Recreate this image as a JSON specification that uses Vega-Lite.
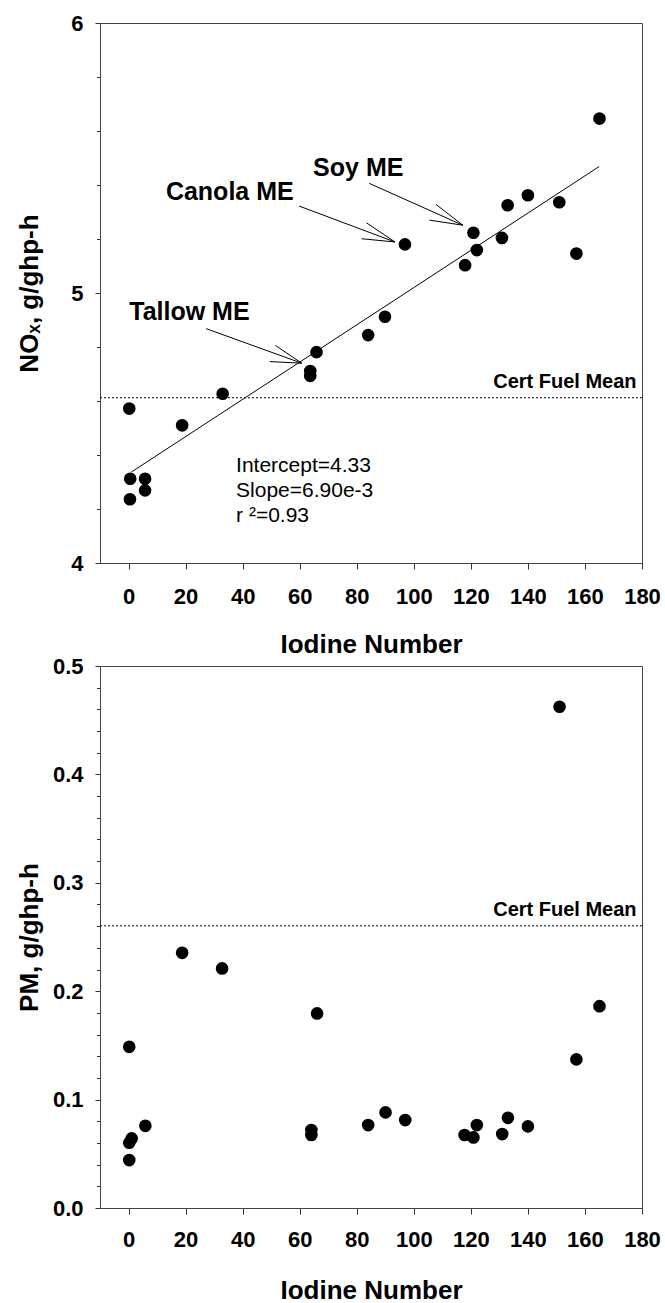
{
  "$schema": "https://vega.github.io/schema/vega-lite/v6.json",
  "padding": {"left": 15, "top": 11, "right": 0, "bottom": 0},
  "spacing": -4,
  "config": {
    "font": "Liberation Sans",
    "view": {"stroke": "#444", "strokeWidth": 1},
    "axis": {
      "grid": false,
      "ticks": true,
      "tickWidth": 1,
      "domainColor": "#444",
      "tickColor": "#333",
      "labelColor": "black",
      "titleColor": "black",
      "labelFontWeight": "bold",
      "titleFontWeight": "bold",
      "labelOverlap": false,
      "labelFlush": false
    }
  },
  "datasets": {
    "nox": [
      {"iodine": 0.25, "value": 4.572},
      {"iodine": 0.6, "value": 4.312},
      {"iodine": 0.5, "value": 4.236},
      {"iodine": 5.8, "value": 4.312},
      {"iodine": 5.8, "value": 4.269},
      {"iodine": 18.8, "value": 4.510},
      {"iodine": 33.0, "value": 4.627},
      {"iodine": 63.7, "value": 4.711},
      {"iodine": 63.7, "value": 4.693},
      {"iodine": 65.9, "value": 4.781},
      {"iodine": 84.0, "value": 4.844},
      {"iodine": 89.9, "value": 4.912},
      {"iodine": 96.9, "value": 5.180},
      {"iodine": 118.0, "value": 5.103},
      {"iodine": 120.9, "value": 5.223},
      {"iodine": 122.1, "value": 5.159},
      {"iodine": 130.9, "value": 5.204},
      {"iodine": 132.9, "value": 5.325},
      {"iodine": 140.0, "value": 5.362},
      {"iodine": 151.0, "value": 5.336},
      {"iodine": 157.0, "value": 5.146},
      {"iodine": 165.1, "value": 5.646}
    ],
    "pm": [
      {"iodine": 0.25, "value": 0.1487},
      {"iodine": 1.1, "value": 0.0642},
      {"iodine": 0.25, "value": 0.0602},
      {"iodine": 0.25, "value": 0.0442},
      {"iodine": 5.9, "value": 0.0758},
      {"iodine": 18.8, "value": 0.2354},
      {"iodine": 32.8, "value": 0.2210},
      {"iodine": 64.1, "value": 0.0719},
      {"iodine": 64.1, "value": 0.0673},
      {"iodine": 66.1, "value": 0.1795},
      {"iodine": 84.0, "value": 0.0765},
      {"iodine": 90.1, "value": 0.0882},
      {"iodine": 97.0, "value": 0.0811},
      {"iodine": 117.8, "value": 0.0673},
      {"iodine": 120.9, "value": 0.0651},
      {"iodine": 122.1, "value": 0.0765},
      {"iodine": 131.0, "value": 0.0682},
      {"iodine": 133.0, "value": 0.0832},
      {"iodine": 140.0, "value": 0.0753},
      {"iodine": 151.1, "value": 0.4624},
      {"iodine": 157.0, "value": 0.1371},
      {"iodine": 165.1, "value": 0.1862}
    ],
    "fit": [
      {"iodine": 1, "value": 4.3369},
      {"iodine": 165, "value": 5.4685}
    ],
    "arrows": [
      {"iodine": 59.8, "value": 5.322, "iodine2": 93.4, "value2": 5.189},
      {"iodine": 83.4, "value": 5.260, "iodine2": 93.4, "value2": 5.189},
      {"iodine": 81.7, "value": 5.201, "iodine2": 93.4, "value2": 5.189},
      {"iodine": 84.4, "value": 5.406, "iodine2": 117.2, "value2": 5.251},
      {"iodine": 107.8, "value": 5.328, "iodine2": 117.2, "value2": 5.251},
      {"iodine": 105.5, "value": 5.270, "iodine2": 117.2, "value2": 5.251},
      {"iodine": 27.2, "value": 4.868, "iodine2": 60.7, "value2": 4.740},
      {"iodine": 51.5, "value": 4.806, "iodine2": 60.7, "value2": 4.740},
      {"iodine": 49.5, "value": 4.746, "iodine2": 60.7, "value2": 4.740}
    ],
    "fuelLabels": [
      {"iodine": 13.1, "value": 5.343, "label": "Canola ME"},
      {"iodine": 64.7, "value": 5.433, "label": "Soy ME"},
      {"iodine": 0.25, "value": 4.899, "label": "Tallow ME"}
    ],
    "fitStats": [
      {"iodine": 37.7, "value": 4.337, "label": "Intercept=4.33"},
      {"iodine": 37.7, "value": 4.2444, "label": "Slope=6.90e-3"},
      {"iodine": 37.7, "value": 4.152, "label": "r ²=0.93"}
    ],
    "noxMean": [{"iodine": 178.1, "value": 4.648, "label": "Cert Fuel Mean", "mean": 4.612}],
    "pmMean": [{"iodine": 178.1, "value": 0.2693, "label": "Cert Fuel Mean", "mean": 0.2603}]
  },
  "vconcat": [
    {
      "width": 542,
      "height": 540,
      "resolve": {"axis": {"y": "independent"}},
      "layer": [
        {
          "data": {"name": "nox"},
          "mark": {"type": "circle", "size": 160, "color": "black", "opacity": 1},
          "encoding": {
            "x": {
              "field": "iodine", "type": "quantitative",
              "scale": {"domain": [-10, 180], "nice": false, "zero": false},
              "axis": {
                "title": "Iodine Number",
                "values": [0, 20, 40, 60, 80, 100, 120, 140, 160, 180],
                "tickSize": 6,
                "labelFontSize": 22,
                "labelPadding": 17,
                "labelOverlap": false,
                "titleFontSize": 26,
                "titleBaseline": "top",
                "titleY": 68
              }
            },
            "y": {
              "field": "value", "type": "quantitative",
              "scale": {"domain": [4, 6], "nice": false, "zero": false},
              "axis": {
                "title": null,
                "orient": "left",
                "values": [4.2, 4.4, 4.6, 4.8, 5.2, 5.4, 5.6, 5.8],
                "labels": false,
                "domain": false,
                "tickSize": 3.5
              }
            }
          }
        },
        {
          "data": {"name": "fit"},
          "mark": {"type": "line", "color": "black", "strokeWidth": 1},
          "encoding": {
            "x": {"field": "iodine", "type": "quantitative"},
            "y": {"field": "value", "type": "quantitative", "axis": null}
          }
        },
        {
          "data": {"name": "noxMean"},
          "mark": {"type": "rule", "color": "black", "strokeWidth": 1, "strokeDash": [2, 2]},
          "encoding": {
            "y": {
              "field": "mean", "type": "quantitative",
              "axis": {
                "title": "NOₓ, g/ghp-h",
                "orient": "left",
                "values": [4, 5, 6],
                "labelExpr": "format(datum.value, 'd')",
                "tickSize": 5,
                "labelFontSize": 22,
                "labelPadding": 12,
                "labelOverlap": false,
                "labelBound": false,
                "labelSeparation": 0,
                "titleFontSize": 26,
                "titleX": -71,
                "titleBaseline": "middle"
              }
            }
          }
        },
        {
          "data": {"name": "noxMean"},
          "mark": {"type": "text", "align": "right", "baseline": "alphabetic", "fontSize": 20, "fontWeight": "bold", "color": "black"},
          "encoding": {
            "x": {"field": "iodine", "type": "quantitative"},
            "y": {"field": "value", "type": "quantitative", "axis": null},
            "text": {"field": "label"}
          }
        },
        {
          "data": {"name": "arrows"},
          "mark": {"type": "rule", "color": "black", "strokeWidth": 1},
          "encoding": {
            "x": {"field": "iodine", "type": "quantitative"},
            "y": {"field": "value", "type": "quantitative", "axis": null},
            "x2": {"field": "iodine2"},
            "y2": {"field": "value2"}
          }
        },
        {
          "data": {"name": "fuelLabels"},
          "mark": {"type": "text", "align": "left", "baseline": "alphabetic", "fontSize": 25, "fontWeight": "bold", "color": "black"},
          "encoding": {
            "x": {"field": "iodine", "type": "quantitative"},
            "y": {"field": "value", "type": "quantitative", "axis": null},
            "text": {"field": "label"}
          }
        },
        {
          "data": {"name": "fitStats"},
          "mark": {"type": "text", "align": "left", "baseline": "alphabetic", "fontSize": 21, "fontWeight": "normal", "color": "black"},
          "encoding": {
            "x": {"field": "iodine", "type": "quantitative"},
            "y": {"field": "value", "type": "quantitative", "axis": null},
            "text": {"field": "label"}
          }
        }
      ]
    },
    {
      "width": 542,
      "height": 542,
      "resolve": {"axis": {"y": "independent"}},
      "layer": [
        {
          "data": {"name": "pm"},
          "mark": {"type": "circle", "size": 160, "color": "black", "opacity": 1},
          "encoding": {
            "x": {
              "field": "iodine", "type": "quantitative",
              "scale": {"domain": [-10, 180], "nice": false, "zero": false},
              "axis": {
                "title": "Iodine Number",
                "values": [0, 20, 40, 60, 80, 100, 120, 140, 160, 180],
                "tickSize": 6,
                "labelFontSize": 22,
                "labelPadding": 15,
                "labelOverlap": false,
                "titleFontSize": 26,
                "titleBaseline": "top",
                "titleY": 69
              }
            },
            "y": {
              "field": "value", "type": "quantitative",
              "scale": {"domain": [0, 0.5], "nice": false, "zero": false},
              "axis": {
                "title": "PM, g/ghp-h",
                "orient": "left",
                "values": [0, 0.1, 0.2, 0.3, 0.4, 0.5],
                "format": ".1f",
                "tickSize": 5,
                "labelFontSize": 22,
                "labelPadding": 12,
                "labelOverlap": false,
                "labelBound": false,
                "titleFontSize": 26,
                "titleX": -71,
                "titleBaseline": "middle"
              }
            }
          }
        },
        {
          "data": {"name": "pmMean"},
          "mark": {"type": "rule", "color": "black", "strokeWidth": 1, "strokeDash": [2, 2]},
          "encoding": {
            "y": {
              "field": "mean", "type": "quantitative",
              "axis": {
                "title": null,
                "orient": "left",
                "values": [0.02, 0.04, 0.06, 0.08, 0.12, 0.14, 0.16, 0.18, 0.22, 0.24, 0.26, 0.28, 0.32, 0.34, 0.36, 0.38, 0.42, 0.44, 0.46, 0.48],
                "labels": false,
                "domain": false,
                "tickSize": 3.5
              }
            }
          }
        },
        {
          "data": {"name": "pmMean"},
          "mark": {"type": "text", "align": "right", "baseline": "alphabetic", "fontSize": 20, "fontWeight": "bold", "color": "black"},
          "encoding": {
            "x": {"field": "iodine", "type": "quantitative"},
            "y": {"field": "value", "type": "quantitative", "axis": null},
            "text": {"field": "label"}
          }
        }
      ]
    }
  ]
}
